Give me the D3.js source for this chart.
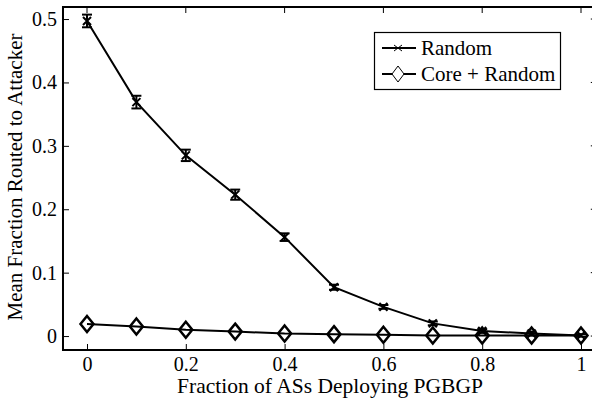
<!DOCTYPE html>
<html>
<head>
<meta charset="utf-8">
<script src="https://cdn.jsdelivr.net/npm/d3@7"></script>
<style>
  body { margin: 0; background: #fff; }
  svg text { font-family: "Liberation Serif", "Times New Roman", serif; fill: #000; }
</style>
</head>
<body>
<div id="chart"></div>
<script>
// data
const fractions = [0, 0.1, 0.2, 0.3, 0.4, 0.5, 0.6, 0.7, 0.8, 0.9, 1];
const randomMean = [0.497, 0.369, 0.285, 0.223, 0.156, 0.077, 0.046, 0.020, 0.008, 0.004, 0.001];
const randomErr = [0.010, 0.010, 0.009, 0.008, 0.006, 0.004, 0.003, 0.003, 0.003, 0.003, 0.002];
const coreMean = [0.019, 0.015, 0.010, 0.007, 0.004, 0.003, 0.002, 0.001, 0.001, 0.001, 0.001];
const xTicks = [0, 0.2, 0.4, 0.6, 0.8, 1];
const yTicks = [0, 0.1, 0.2, 0.3, 0.4, 0.5];
const seriesNames = ["Random", "Core + Random"];

const width = 592;
const height = 398;
const fontFam = "Liberation Serif, Times New Roman, serif";

const svg = d3.select("#chart")
    .append("svg")
    .attr("width", width)
    .attr("height", height);

// scales
const x = d3.scaleLinear().domain([0, 1]).range([87, 581]);
const y = d3.scaleLinear().domain([-0.022, 0.519]).range([350, 7]);

const plotLeft = x(-0.0486), plotRight = x(1.032);
const plotTop = y(0.519), plotBottom = y(-0.022);
const tickLen = 6;

// axes (inward ticks)
svg.append("g")
    .attr("transform", `translate(0,${plotBottom})`)
    .call(d3.axisBottom(x).tickValues(xTicks).tickSize(-tickLen).tickPadding(7)
        .tickFormat(d => d === 0 ? "0" : d === 1 ? "1" : d3.format(".1f")(d)))
    .call(g => g.select(".domain").remove())
    .attr("font-family", fontFam)
    .attr("font-size", 20);

svg.append("g")
    .attr("transform", `translate(${plotLeft},0)`)
    .call(d3.axisLeft(y).tickValues(yTicks).tickSize(-tickLen).tickPadding(6)
        .tickFormat(d => d === 0 ? "0" : d3.format(".1f")(d)))
    .call(g => g.select(".domain").remove())
    .attr("font-family", fontFam)
    .attr("font-size", 20);

// top and right ticks
svg.append("g")
    .selectAll("line")
    .data(xTicks)
    .enter().append("line")
    .attr("x1", d => x(d)).attr("x2", d => x(d))
    .attr("y1", plotTop).attr("y2", plotTop + tickLen)
    .attr("stroke", "#000");

svg.append("g")
    .selectAll("line")
    .data(yTicks)
    .enter().append("line")
    .attr("x1", plotRight).attr("x2", plotRight - tickLen)
    .attr("y1", d => y(d)).attr("y2", d => y(d))
    .attr("stroke", "#000");

svg.selectAll(".tick line").attr("stroke", "#000");

// frame
svg.append("rect")
    .attr("x", plotLeft).attr("y", plotTop)
    .attr("width", plotRight - plotLeft).attr("height", plotBottom - plotTop)
    .attr("fill", "none")
    .attr("stroke", "#000")
    .attr("stroke-width", 2);

// axis labels
svg.append("text")
    .attr("x", 330).attr("y", 393)
    .attr("text-anchor", "middle")
    .style("font-size", "21.5px")
    .text("Fraction of ASs Deploying PGBGP");

svg.append("text")
    .attr("transform", "translate(22,177) rotate(-90)")
    .attr("text-anchor", "middle")
    .style("font-size", "21px")
    .text("Mean Fraction Routed to Attacker");

const line = d3.line()
    .x(d => x(d[0]))
    .y(d => y(d[1]));

const randomPts = fractions.map((f, i) => [f, randomMean[i]]);
const corePts = fractions.map((f, i) => [f, coreMean[i]]);

// lines
[randomPts, corePts].forEach(pts => {
    svg.append("path")
        .datum(pts)
        .attr("d", line)
        .attr("fill", "none")
        .attr("stroke", "#000")
        .attr("stroke-width", 2);
});

// error bars for Random
const capW = 5;
const err = svg.append("g").attr("stroke", "#000").attr("stroke-width", 2);
fractions.forEach((f, i) => {
    const cx = x(f);
    const y1 = y(randomMean[i] + randomErr[i]);
    const y2 = y(randomMean[i] - randomErr[i]);
    err.append("line").attr("x1", cx).attr("x2", cx).attr("y1", y1).attr("y2", y2);
    err.append("line").attr("x1", cx - capW).attr("x2", cx + capW).attr("y1", y1).attr("y2", y1);
    err.append("line").attr("x1", cx - capW).attr("x2", cx + capW).attr("y1", y2).attr("y2", y2);
});

// markers
function crossMark(g, cx, cy, s) {
    g.append("path")
        .attr("d", `M${cx - s},${cy - s}L${cx + s},${cy + s}M${cx - s},${cy + s}L${cx + s},${cy - s}`)
        .attr("stroke", "#000").attr("stroke-width", 2).attr("fill", "none");
}
function diamondMark(g, cx, cy, w, h) {
    g.append("path")
        .attr("d", `M${cx},${cy - h}L${cx + w},${cy}L${cx},${cy + h}L${cx - w},${cy}Z`)
        .attr("stroke", "#000").attr("stroke-width", 2.5).attr("fill", "none");
}

const marks = svg.append("g");
randomPts.forEach(d => crossMark(marks, x(d[0]), y(d[1]), 4));
corePts.forEach(d => diamondMark(marks, x(d[0]), y(d[1]), 6.5, 8));

// legend
const lg = svg.append("g");
lg.append("rect")
    .attr("x", 374.5).attr("y", 32.5)
    .attr("width", 186).attr("height", 57)
    .attr("fill", "#fff")
    .attr("stroke", "#000")
    .attr("stroke-width", 1.2);

seriesNames.forEach((name, i) => {
    const ly = 48 + i * 26;
    lg.append("line")
        .attr("x1", 382).attr("x2", 416)
        .attr("y1", ly).attr("y2", ly)
        .attr("stroke", "#000").attr("stroke-width", 2);
    if (i === 0) {
        lg.append("path")
            .attr("d", `M394,${ly - 3}L402,${ly + 3}M394,${ly + 3}L402,${ly - 3}`)
            .attr("stroke", "#000").attr("stroke-width", 1);
    } else {
        lg.append("path")
            .attr("d", `M398,${ly - 8}L404,${ly}L398,${ly + 8}L392,${ly}Z`)
            .attr("stroke", "#000").attr("stroke-width", 1).attr("fill", "#fff");
    }
    lg.append("text")
        .attr("x", 421).attr("y", ly + 7)
        .style("font-size", "21px")
        .text(name);
});
</script>
</body>
</html>
